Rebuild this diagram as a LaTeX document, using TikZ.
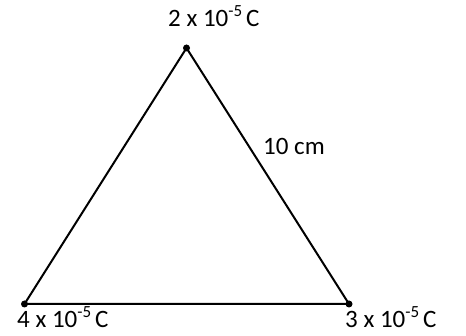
\documentclass[tikz,border=0pt]{standalone}
\usepackage{fontspec}
\setmainfont{Carlito}
\newcommand{\expo}[1]{\raisebox{0.42em}{\fontsize{17}{20}\selectfont #1}}
\begin{document}
\begin{tikzpicture}[x=1pt,y=-1pt,
  dot/.style={circle,fill=black,inner sep=0pt,minimum size=7pt},
  edge/.style={line width=2pt},
  lbl/.style={anchor=base west,inner sep=0pt,font=\fontsize{25}{30}\selectfont}]
\useasboundingbox (0,0) rectangle (466,336);
\node[dot] (A) at (186.5,48) {};
\node[dot] (B) at (24.5,304) {};
\node[dot] (C) at (349,304) {};
\draw[edge,line join=round] (A.center) -- (B.center) -- (C.center) -- cycle;
\node[lbl] (la) at (168,27) {2 x 10\expo{-5}\hspace{0.16em}C};
\node[lbl] (lb) at (17,328) {4 x 10\expo{-5}\hspace{0.16em}C};
\node[lbl] (lc) at (345,328) {3 x 10\expo{-5}\hspace{0.16em}C};
\node[lbl] (ld) at (263,155) {10 cm};
\end{tikzpicture}
\end{document}
